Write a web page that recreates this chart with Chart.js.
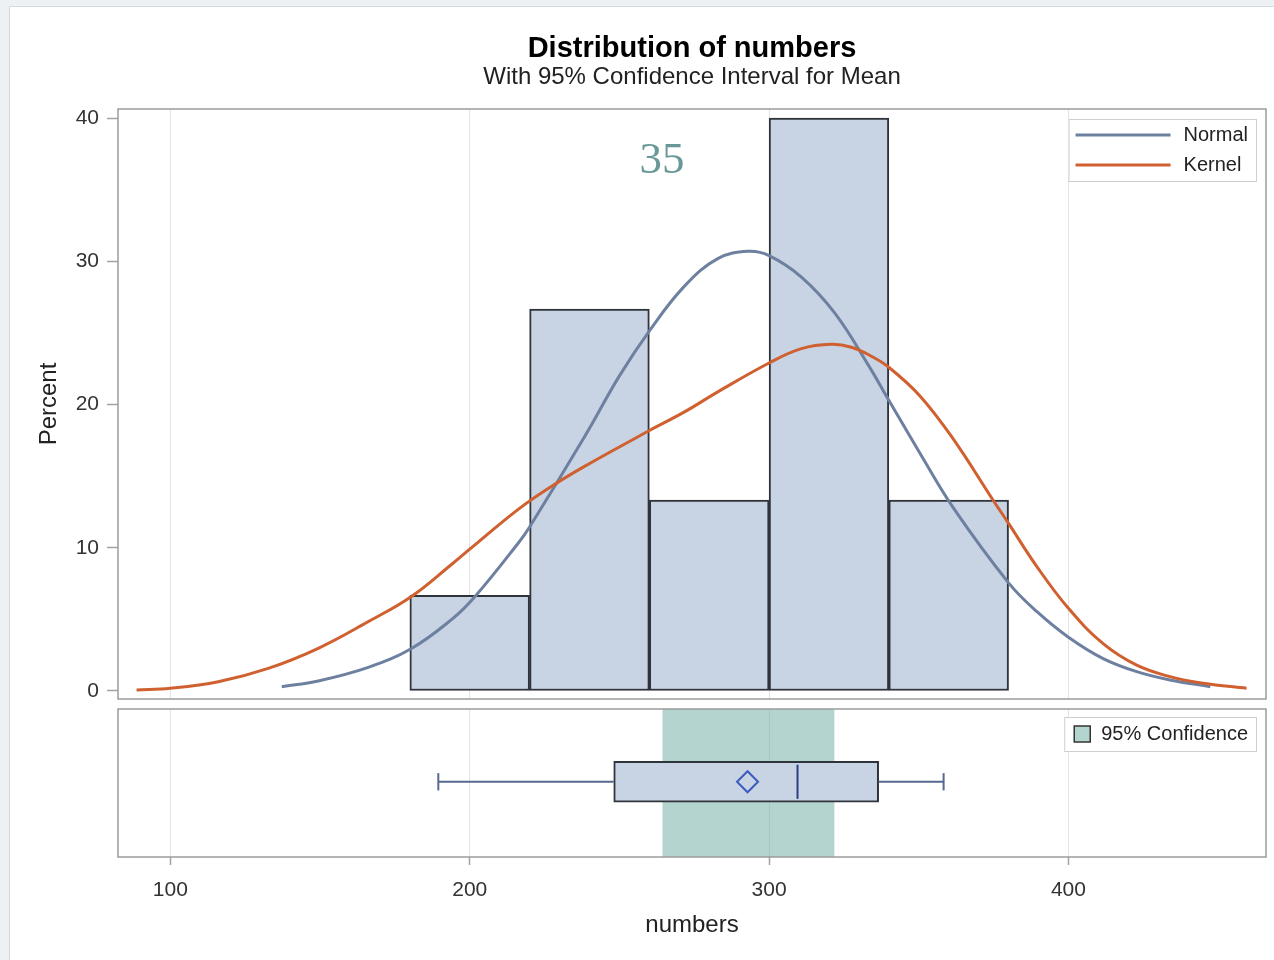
<!DOCTYPE html>
<html>
<head>
<meta charset="utf-8">
<title>Distribution of numbers</title>
<script src="https://cdn.jsdelivr.net/npm/chart.js@4.4.1/dist/chart.umd.min.js"></script>
<style>
  html, body { margin: 0; padding: 0; width: 1274px; height: 960px; overflow: hidden; background: #eef1f4; }
  #frame { position: absolute; left: 9px; top: 6px; width: 1300px; height: 1000px; background: #fff; border: 1px solid #d6dadf; }
  #histCanvas { position: absolute; left: 0; top: 0; }
  #boxCanvas { position: absolute; left: 0; top: 704px; }
</style>
</head>
<body>
<div id="frame"></div>
<canvas id="histCanvas" width="1274" height="704"></canvas>
<canvas id="boxCanvas" width="1274" height="256"></canvas>
<script>
// histogram bins (midpoint, percent)
const binMidpoints = [200, 240, 280, 320, 360];
const binPercents = [6.67, 26.67, 13.33, 40, 13.33];

// fitted normal density, percent scale
const normalX = [137.2, 149.4, 166.1, 180.4, 194, 201.7, 216.3, 220, 238.5, 250, 260.2, 271.9, 283, 293, 300,
  310.8, 321.9, 333, 340, 350.4, 361.5, 380, 389.4, 400, 411.6, 422.8, 433.9, 447.4];
const normalY = [0.3, 0.7, 1.65, 2.95, 5.0, 6.58, 10.35, 11.45, 17.8, 22.0, 25.2, 28.3, 30.2, 30.7, 30.4,
  28.9, 26.4, 22.8, 20.3, 16.6, 12.8, 7.55, 5.55, 3.75, 2.26, 1.35, 0.77, 0.3];

// kernel density estimate, percent scale
const kernelX = [88.7, 100, 116, 132.7, 149.4, 166.1, 180.4, 194, 200, 216.3, 227.4, 238.5, 260.2, 271.9,
  283, 300, 310.8, 320.8, 327.5, 333.9, 340, 350.4, 361.5, 374.9, 380, 389.4, 400, 411.6, 422.8, 433.9, 445, 459.5];
const kernelY = [0.07, 0.19, 0.65, 1.58, 2.98, 4.84, 6.58, 8.85, 9.9, 12.7, 14.3, 15.7, 18.2, 19.5,
  20.9, 22.9, 23.9, 24.2, 24.0, 23.4, 22.6, 20.6, 17.6, 13.3, 11.7, 8.7, 5.77, 3.3, 1.8, 1.0, 0.54, 0.19];

const xTicks = [100, 200, 300, 400];
const yTicks = [0, 10, 20, 30, 40];

// box plot summary
const whiskerLow = 189.5;
const q1 = 248.1;
const median = 309.5;
const mean = 292.8;
const q3 = 336.6;
const whiskerHigh = 358.3;
const meanCI = [264.5, 321.7];

const noteText = '35';

const SANS = '"Liberation Sans", Arial, sans-serif';
Chart.defaults.font.family = SANS;
Chart.defaults.color = '#333';

// vertical placement inside the box panel (0..1)
const boxMid = 0.51;
const boxTop = 0.6485, boxBottom = 0.3715;
const capTop = 0.58, capBottom = 0.44;

const pts = (xs, ys) => xs.map((x, i) => ({ x, y: ys[i] }));

const framePlugin = {
  id: 'frame',
  afterDraw(chart) {
    const { ctx, chartArea: a } = chart;
    ctx.save();
    ctx.strokeStyle = '#9c9c9c';
    ctx.lineWidth = 1.5;
    ctx.strokeRect(a.left, a.top, a.right - a.left, a.bottom - a.top);
    ctx.restore();
  }
};

// legend drawn inside the plot area, top right corner
const boxLegend = {
  id: 'boxLegend',
  afterDraw(chart, args, opts) {
    const { ctx, chartArea } = chart;
    const items = chart.data.datasets.filter(d => d.inLegend);
    if (!items.length) return;
    ctx.save();
    ctx.font = '20px ' + SANS;
    const textW = Math.max(...items.map(d => ctx.measureText(d.label).width));
    const w = opts.padLeft + opts.sample + opts.gap + textW + opts.padRight;
    const h = items.length * opts.rowHeight + opts.padV * 2;
    const right = chartArea.right - opts.inset;
    const left = right - w;
    const top = chartArea.top + opts.top;
    ctx.fillStyle = '#fff';
    ctx.fillRect(left, top, w, h);
    ctx.strokeStyle = '#cfcfcf';
    ctx.lineWidth = 1;
    ctx.strokeRect(left + 0.5, top + 0.5, w, h);
    items.forEach((d, i) => {
      const y = top + opts.padV + opts.rowHeight * (i + 0.5);
      const sx = left + opts.padLeft;
      if (opts.kind === 'line') {
        ctx.strokeStyle = d.borderColor;
        ctx.lineWidth = d.borderWidth;
        ctx.beginPath();
        ctx.moveTo(sx, y);
        ctx.lineTo(sx + opts.sample, y);
        ctx.stroke();
      } else {
        ctx.fillStyle = d.backgroundColor;
        ctx.fillRect(sx, y - opts.sample / 2, opts.sample, opts.sample);
        ctx.strokeStyle = '#333';
        ctx.lineWidth = 1.5;
        ctx.strokeRect(sx, y - opts.sample / 2, opts.sample, opts.sample);
      }
      ctx.fillStyle = '#222';
      ctx.textAlign = 'left';
      ctx.textBaseline = 'middle';
      ctx.fillText(d.label, sx + opts.sample + opts.gap, y);
    });
    ctx.restore();
  }
};

const notePlugin = {
  id: 'note',
  afterDraw(chart) {
    const { ctx } = chart;
    ctx.save();
    ctx.font = '45px "Liberation Serif", "Times New Roman", serif';
    ctx.fillStyle = '#6a9898';
    ctx.textAlign = 'center';
    ctx.textBaseline = 'alphabetic';
    ctx.fillText(noteText, 662, 172.5);
    ctx.restore();
  }
};

const setTicks = list => scale => { scale.ticks = list.map(value => ({ value })); };

new Chart(document.getElementById('histCanvas'), {
  type: 'bar',
  data: {
    datasets: [
      {
        type: 'line', label: 'Normal', data: pts(normalX, normalY),
        borderColor: '#6e80a0', borderWidth: 3, pointRadius: 0,
        tension: 0.4, order: 1, inLegend: true
      },
      {
        type: 'line', label: 'Kernel', data: pts(kernelX, kernelY),
        borderColor: '#d0602f', borderWidth: 3, pointRadius: 0,
        tension: 0.4, order: 0, inLegend: true
      },
      {
        type: 'bar', label: 'Percent', data: pts(binMidpoints, binPercents),
        backgroundColor: '#c8d4e4', borderColor: '#2f343b', borderWidth: 2,
        borderSkipped: false, barPercentage: 1, categoryPercentage: 1, order: 2
      }
    ]
  },
  options: {
    responsive: false,
    animation: false,
    layout: { padding: { left: 0, right: 8, top: 0, bottom: 5 }, autoPadding: false },
    scales: {
      x: {
        type: 'linear', min: 82.5, max: 466, offset: false,
        afterBuildTicks: setTicks(xTicks),
        afterFit: s => { s.height = 0; s.paddingLeft = 0; s.paddingRight = 0; },
        ticks: { display: false },
        grid: { color: '#e3e3e3', drawTicks: false, offset: false },
        border: { display: false }
      },
      y: {
        type: 'linear', min: -0.56, max: 40.63,
        afterBuildTicks: setTicks(yTicks),
        afterFit: s => { s.width = 118; s.paddingTop = 0; s.paddingBottom = 0; },
        ticks: { font: { size: 21 }, color: '#333', padding: 8 },
        grid: { drawOnChartArea: false, tickLength: 11, tickColor: '#a3a3a3', tickWidth: 1.5 },
        border: { display: false },
        title: { display: true, text: 'Percent', font: { size: 24 }, color: '#222', padding: { top: 34.6, bottom: 0 } }
      }
    },
    plugins: {
      legend: { display: false },
      tooltip: { enabled: false },
      title: {
        display: true, fullSize: false, text: 'Distribution of numbers', color: '#000',
        font: { size: 29, weight: 'bold', lineHeight: 0.9 }, padding: { top: 35.9, bottom: 0 }
      },
      subtitle: {
        display: true, fullSize: false, text: 'With 95% Confidence Interval for Mean', color: '#222',
        font: { size: 24 }, padding: { top: 0.6, bottom: 17.6 }
      },
      boxLegend: { kind: 'line', inset: 10, top: 10, padLeft: 7, sample: 95, gap: 13, padRight: 8, rowHeight: 30, padV: 1 }
    }
  },
  plugins: [framePlugin, boxLegend, notePlugin]
});

new Chart(document.getElementById('boxCanvas'), {
  type: 'bar',
  data: {
    datasets: [
      {
        type: 'scatter', label: 'Mean', data: [{ x: mean, y: boxMid }],
        pointStyle: 'rectRot', pointRadius: 10.5, borderColor: '#3c5bbf', borderWidth: 2,
        backgroundColor: 'rgba(0,0,0,0)', order: 0
      },
      {
        type: 'line', label: 'Median', data: [{ x: median, y: boxBottom }, { x: median, y: boxTop }],
        borderColor: '#2a3f85', borderWidth: 2, pointRadius: 0, order: 0
      },
      {
        type: 'line', label: 'Lower whisker', data: [{ x: whiskerLow, y: boxMid }, { x: q1, y: boxMid }],
        borderColor: '#56698f', borderWidth: 2, pointRadius: 0, order: 1
      },
      {
        type: 'line', label: 'Upper whisker', data: [{ x: q3, y: boxMid }, { x: whiskerHigh, y: boxMid }],
        borderColor: '#56698f', borderWidth: 2, pointRadius: 0, order: 1
      },
      {
        type: 'line', label: 'Lower cap', data: [{ x: whiskerLow, y: capBottom }, { x: whiskerLow, y: capTop }],
        borderColor: '#56698f', borderWidth: 2, pointRadius: 0, order: 1
      },
      {
        type: 'line', label: 'Upper cap', data: [{ x: whiskerHigh, y: capBottom }, { x: whiskerHigh, y: capTop }],
        borderColor: '#56698f', borderWidth: 2, pointRadius: 0, order: 1
      },
      {
        type: 'bar', label: 'Box', data: [{ x: [q1, q3], y: boxMid }], indexAxis: 'y',
        barThickness: 41, grouped: false, backgroundColor: '#c8d4e4', borderColor: '#2f343b',
        borderWidth: 2, borderSkipped: false, order: 2
      },
      {
        type: 'bar', label: '95% Confidence', data: [{ x: meanCI, y: 0.5 }], indexAxis: 'y',
        barThickness: 148, grouped: false, backgroundColor: 'rgba(119,177,168,0.55)',
        borderWidth: 0, order: 3, inLegend: true
      }
    ]
  },
  options: {
    responsive: false,
    animation: false,
    layout: { padding: { left: 118, right: 8, top: 5, bottom: 0 }, autoPadding: false },
    scales: {
      x: {
        type: 'linear', min: 82.5, max: 466, offset: false,
        afterBuildTicks: setTicks(xTicks),
        afterFit: s => { s.height = 103; s.paddingLeft = 0; s.paddingRight = 0; },
        ticks: { font: { size: 21 }, color: '#333', padding: 12.4, maxRotation: 0 },
        grid: { color: '#e3e3e3', tickColor: '#a3a3a3', tickLength: 8, tickWidth: 1.5, offset: false },
        border: { display: false },
        title: { display: true, text: 'numbers', font: { size: 24 }, color: '#222', padding: { top: 0, bottom: 20.6 } }
      },
      y: { type: 'linear', min: 0, max: 1, display: false }
    },
    plugins: {
      legend: { display: false },
      tooltip: { enabled: false },
      boxLegend: { kind: 'swatch', inset: 10, top: 8, padLeft: 10, sample: 16, gap: 11, padRight: 8, rowHeight: 32, padV: 1 }
    }
  },
  plugins: [framePlugin, boxLegend]
});
</script>
</body>
</html>
